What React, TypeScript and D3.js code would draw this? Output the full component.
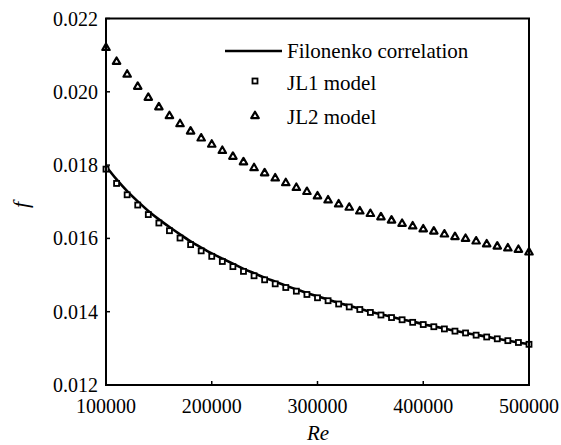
import React from "react";
import * as d3 from "d3";

const reValues = d3.range(41).map((i) => 100000 + i * 10000);

const filonenko = [
  0.01797, 0.01761, 0.01729, 0.01701, 0.01675, 0.01652, 0.01631, 0.01611, 0.01592, 0.01575,
  0.01559, 0.01545, 0.01531, 0.01517, 0.01505, 0.01493, 0.01482, 0.01471, 0.01461, 0.01451,
  0.01442, 0.01433, 0.01424, 0.01416, 0.01408, 0.01400, 0.01393, 0.01386, 0.01379, 0.01373,
  0.01366, 0.01360, 0.01354, 0.01348, 0.01342, 0.01337, 0.01332, 0.01326, 0.01321, 0.01316,
  0.01312,
];

const jl1 = [
  0.01789, 0.0175, 0.01719, 0.01691, 0.01665, 0.01642, 0.01621, 0.01601, 0.01583, 0.01566,
  0.01551, 0.01537, 0.01523, 0.0151, 0.01498, 0.01487, 0.01476, 0.01466, 0.01456, 0.01447,
  0.01438, 0.0143, 0.01421, 0.01413, 0.01406, 0.01398, 0.01391, 0.01384, 0.01378, 0.01371,
  0.01365, 0.01359, 0.01353, 0.01347, 0.01342, 0.01336, 0.01331, 0.01326, 0.01321, 0.01316,
  0.01311,
];

const jl2 = [
  0.0212, 0.02082, 0.02047, 0.02014, 0.01984, 0.01958, 0.01934, 0.01912, 0.01892, 0.01873,
  0.01856, 0.01839, 0.01823, 0.01808, 0.01792, 0.01778, 0.01764, 0.01751, 0.01738, 0.01727,
  0.01715, 0.01704, 0.01693, 0.01684, 0.01674, 0.01667, 0.01658, 0.01649, 0.0164, 0.01633,
  0.01625, 0.01619, 0.01611, 0.01604, 0.01599, 0.01592, 0.01584, 0.01578, 0.01573, 0.01569,
  0.01562,
];

const xTicks = [100000, 200000, 300000, 400000, 500000];
const yTicks = [0.012, 0.014, 0.016, 0.018, 0.02, 0.022];
const legendLabels = ["Filonenko correlation", "JL1 model", "JL2 model"];

const W = 561;
const H = 445;
const FONT = '"Liberation Serif", "DejaVu Serif", serif';
const txt = { fontFamily: FONT };

export default function App() {
  const x = d3.scaleLinear().domain([100000, 500000]).range([106, 529]);
  const y = d3.scaleLinear().domain([0.012, 0.022]).range([385, 18.5]);

  const line = d3
    .line<number>()
    .x((_, i) => x(reValues[i]))
    .y((d) => y(d))
    .curve(d3.curveMonotoneX);

  const tri = d3.symbol().type(d3.symbolTriangle).size(24)();
  const sq = 5;

  const [x0, x1] = x.range();
  const [y0, y1] = y.range();

  return (
    <svg
      width={W}
      height={H}
      style={{ position: "absolute", left: 0, top: 0, background: "#fff", fontFamily: FONT }}
    >
      <rect x={0} y={0} width={W} height={H} fill="#fff" />
      <path d={line(filonenko) || ""} fill="none" stroke="#000" strokeWidth={2.6} />
      {jl1.map((v, i) => (
        <rect
          key={"s" + i}
          x={x(reValues[i]) - sq / 2}
          y={y(v) - sq / 2}
          width={sq}
          height={sq}
          fill="#fff"
          stroke="#000"
          strokeWidth={1.8}
        />
      ))}
      {jl2.map((v, i) => (
        <path
          key={"t" + i}
          d={tri || ""}
          transform={`translate(${x(reValues[i])},${y(v)})`}
          fill="#fff"
          stroke="#000"
          strokeWidth={2.2}
          strokeLinejoin="round"
        />
      ))}
      <rect x={x0} y={y1} width={x1 - x0} height={y0 - y1} fill="none" stroke="#000" strokeWidth={2} />
      {yTicks.map((t) => (
        <g key={"y" + t}>
          <line x1={x0} x2={x0 + 4} y1={y(t)} y2={y(t)} stroke="#000" strokeWidth={1.5} />
          <text x={x0 - 8} y={y(t)} dy="0.35em" textAnchor="end" fontSize={20} fill="#000" style={txt}>
            {t.toFixed(3)}
          </text>
        </g>
      ))}
      {xTicks.map((t) => (
        <g key={"x" + t}>
          <line x1={x(t)} x2={x(t)} y1={y0} y2={y0 - 4} stroke="#000" strokeWidth={1.5} />
          <text x={x(t)} y={413} textAnchor="middle" fontSize={20} fill="#000" style={txt}>
            {t}
          </text>
        </g>
      ))}
      <text x={318} y={440} textAnchor="middle" fontSize={21} fontStyle="italic" fill="#000" style={txt}>
        Re
      </text>
      <text
        transform={`translate(28,205) rotate(-90)`}
        textAnchor="middle"
        fontSize={22}
        fontStyle="italic"
        fill="#000"
        style={txt}
      >
        f
      </text>
      <g>
        <line x1={225} x2={282} y1={51} y2={51} stroke="#000" strokeWidth={2.6} />
        <text x={287} y={58} fontSize={21} fill="#000" style={txt}>
          {legendLabels[0]}
        </text>
        <rect x={255 - sq / 2} y={81 - sq / 2} width={sq} height={sq} fill="#fff" stroke="#000" strokeWidth={1.8} />
        <text x={287} y={90} fontSize={21} fill="#000" style={txt}>
          {legendLabels[1]}
        </text>
        <path d={tri || ""} transform="translate(255,116)" fill="#fff" stroke="#000" strokeWidth={2.2} strokeLinejoin="round" />
        <text x={287} y={124} fontSize={21} fill="#000" style={txt}>
          {legendLabels[2]}
        </text>
      </g>
    </svg>
  );
}
